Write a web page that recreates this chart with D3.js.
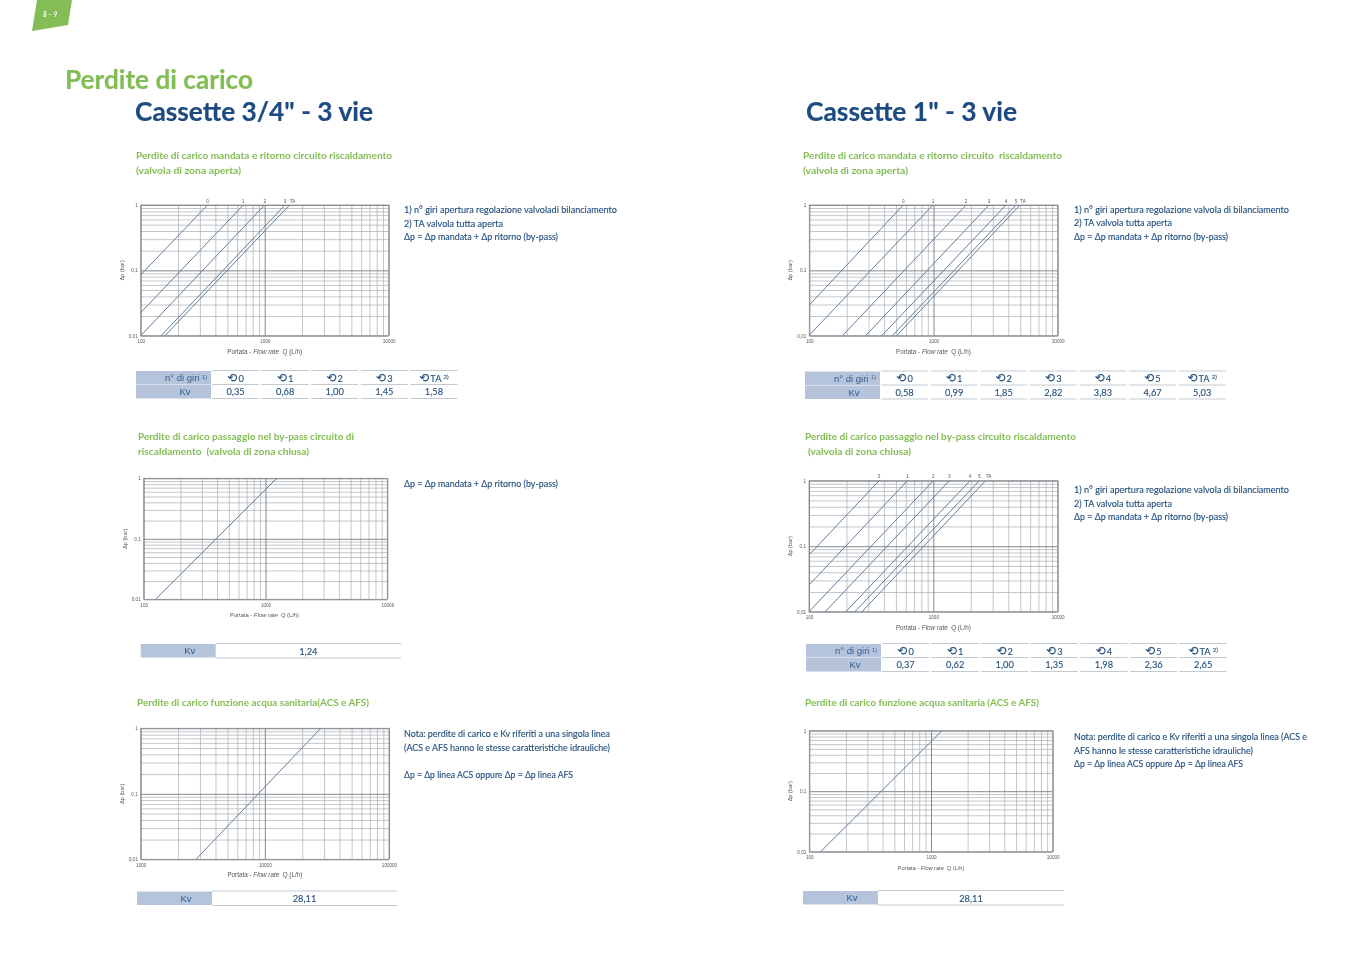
<!DOCTYPE html>
<html>
<head>
	<meta charset="utf-8">
	<title>Perdite di carico</title>
	<style>
		html, body { margin: 0; background: #fff; }
		svg { display: block; }
		.soft { filter: blur(0.4px); }
		.title { font: 700 27px Lato, sans-serif; stroke-width: 0.2; }
		.sub { font: 700 10px Lato, sans-serif; fill: #84bd55; }
		.note { font: 400 10px Lato, sans-serif; fill: #25507f; stroke: #25507f; stroke-width: 0.15; }
		.tick text, .small { font-family: "Liberation Sans", sans-serif; fill: #555; }
		.cell { font: 400 9.3px Lato, sans-serif; fill: #25507f; stroke: #25507f; stroke-width: 0.12; text-anchor: middle; }
		.head { font: 400 9.5px "Liberation Sans", sans-serif; fill: #2f5c8f; }
	</style>
</head>
<body>
<svg width="1356" height="959"></svg>
<script src="https://cdn.jsdelivr.net/npm/d3@7"></script>
<script>
	// tabelle Kv
	const turnsShort = ["0", "1", "2", "3", "TA"]
	const turnsLong = ["0", "1", "2", "3", "4", "5", "TA"]
	const kvHeat34 = ["0,35", "0,68", "1,00", "1,45", "1,58"]
	const kvHeat1 = ["0,58", "0,99", "1,85", "2,82", "3,83", "4,67", "5,03"]
	const kvBypass34 = ["1,24"]
	const kvBypass1 = ["0,37", "0,62", "1,00", "1,35", "1,98", "2,36", "2,65"]
	const kvAcs34 = ["28,11"]
	const kvAcs1 = ["28,11"]

	// curve: estremo basso [Q, dp] e Q dove arriva a dp = 1
	const lowHeat34 = [[100, 0.085], [100, 0.0225], [100, 0.01], [146, 0.01], [157, 0.01]]
	const topHeat34 = [346, 673, 1000, 1459, 1585]
	const lowHeat1 = [[100, 0.0295], [100, 0.0102], [185, 0.01], [284, 0.01], [383, 0.01], [466, 0.01], [505, 0.01]]
	const topHeat1 = [571, 990, 1830, 2800, 3837, 4620, 4977]
	const lowBypass34 = [[125, 0.01]]
	const topBypass34 = [1236]
	const lowBypass1 = [[100, 0.0733], [100, 0.0255], [100, 0.01], [135, 0.01], [198, 0.01], [234, 0.01], [267, 0.01]]
	const topBypass1 = [366, 618, 1000, 1345, 1972, 2344, 2630]
	const lowAcs34 = [[2790, 0.01]]
	const topAcs34 = [28200]
	const lowAcs1 = [[124, 0.01]]
	const topAcs1 = [1230]

	const yTicks = [0.01, 0.1, 1]
	const xTicksLow = [100, 1000, 10000]
	const xTicksHigh = [1000, 10000, 100000]

	const svg = d3.select("svg")
	const page = svg.append("g").attr("class", "soft")

	function minors(lo, hi) {
		let out = []
		for (let d = lo; d < hi; d *= 10)
			for (let m = 2; m < 10; m++) out.push(d * m)
		return out
	}

	function chart(box, xDomain, xTicks, low, top, labels) {
		let x = d3.scaleLog().domain(xDomain).range([box.l, box.r])
		let y = d3.scaleLog().domain([0.01, 1]).range([box.b, box.t])
		let h = box.b - box.t, w = box.r - box.l
		let g = page.append("g")

		// griglia minore
		g.append("g").attr("transform", `translate(0,${box.b})`)
			.call(d3.axisBottom(x).tickValues(minors(xDomain[0], xDomain[1])).tickSize(-h).tickFormat(""))
			.call(a => a.select(".domain").remove())
			.call(a => a.selectAll("line").attr("stroke", "#a9adb2").attr("stroke-width", 0.7))
		g.append("g").attr("transform", `translate(${box.l},0)`)
			.call(d3.axisLeft(y).tickValues(minors(0.01, 1)).tickSize(-w).tickFormat(""))
			.call(a => a.select(".domain").remove())
			.call(a => a.selectAll("line").attr("stroke", "#a9adb2").attr("stroke-width", 0.7))

		// decadi con etichette
		g.append("g").attr("transform", `translate(0,${box.b})`)
			.call(d3.axisBottom(x).tickValues(xTicks).tickSize(-h).tickPadding(4).tickFormat(d3.format("d")))
			.call(a => a.select(".domain").remove())
			.call(a => a.selectAll("line").attr("stroke", "#777b80").attr("stroke-width", 0.9))
			.call(a => a.selectAll("text").attr("font-size", 4.6))
		g.append("g").attr("transform", `translate(${box.l},0)`)
			.call(d3.axisLeft(y).tickValues(yTicks).tickSize(-w).tickPadding(3).tickFormat(d => String(d).replace(".", ",")))
			.call(a => a.select(".domain").remove())
			.call(a => a.selectAll("line").attr("stroke", "#777b80").attr("stroke-width", 0.9))
			.call(a => a.selectAll("text").attr("font-size", 4.6))
		g.append("rect").attr("x", box.l).attr("y", box.t).attr("width", w).attr("height", h)
			.attr("fill", "none").attr("stroke", "#8b8f94").attr("stroke-width", 0.8)

		// curve
		let line = d3.line().x(d => x(d[0])).y(d => y(d[1]))
		g.selectAll("path.curve").data(low).enter().append("path")
			.attr("class", "curve")
			.attr("fill", "none").attr("stroke", "#637e9d").attr("stroke-width", 1)
			.attr("d", (d, i) => line([d, [top[i], 1]]))
		if (labels) {
			g.selectAll("text.lab").data(labels).enter().append("text")
				.attr("class", "small lab")
				.attr("x", (d, i) => x(top[i]) + (d === "TA" ? 3 : 0)).attr("y", box.t - 2.5)
				.attr("font-size", 4.6).attr("text-anchor", "middle")
				.text(d => d)
		}

		// titoli assi
		g.append("text").attr("class", "small")
			.attr("transform", `translate(${box.l - 17},${(box.t + box.b) / 2}) rotate(-90)`)
			.attr("font-size", 5.6).attr("text-anchor", "middle").text("Δp (bar)")
		let xt = g.append("text").attr("class", "small")
			.attr("x", (box.l + box.r) / 2 + (box.dxTitle || 0)).attr("y", box.b + 18)
			.attr("font-size", box.fs || 6.3).attr("text-anchor", "middle").attr("xml:space", "preserve")
		xt.append("tspan").text("Portata - ")
		xt.append("tspan").attr("font-style", "italic").text("Flow rate")
		xt.append("tspan").text("  Q (L/h)")
	}

	function rule(g, x1, x2, y) {
		g.append("line").attr("x1", x1).attr("x2", x2).attr("y1", y).attr("y2", y)
			.attr("stroke", "#c3cad4").attr("stroke-width", 1)
	}

	// tabella a due righe: n° di giri + Kv
	function table(left, top, turns, kv) {
		let g = page.append("g")
		let rowH = 14, band = d3.scaleBand().domain(d3.range(turns.length))
			.range([left + 76, left + 76 + 49.6 * turns.length - 2.5]).paddingInner(0.05)
		g.append("rect").attr("x", left).attr("y", top).attr("width", 75).attr("height", rowH - 0.5).attr("fill", "#b5c4db")
		g.append("rect").attr("x", left).attr("y", top + rowH).attr("width", 75).attr("height", rowH - 0.5).attr("fill", "#b5c4db")
		let hd = g.append("text").attr("class", "head").attr("x", left + 71).attr("y", top + 10).attr("text-anchor", "end")
		hd.append("tspan").text("n° di giri ")
		hd.append("tspan").attr("font-size", 5.5).attr("dy", -2.5).text("1)")
		g.append("text").attr("class", "head").attr("x", left + 49).attr("y", top + rowH + 10).attr("text-anchor", "middle").text("Kv")
		turns.forEach((t, i) => {
			let x0 = band(i), x1 = x0 + band.bandwidth(), cx = (x0 + x1) / 2
			rule(g, x0, x1, top - 0.5)
			rule(g, x0, x1, top + rowH - 0.5)
			rule(g, x0, x1, top + 2 * rowH - 0.5)
			let c = g.append("text").attr("class", "cell").attr("x", cx).attr("y", top + 10.5)
			c.append("tspan").attr("font-family", "DejaVu Sans").attr("font-size", 12).text("⟲")
			c.append("tspan").attr("dx", 1).text(t === "TA" ? "TA " : t)
			if (t === "TA") c.append("tspan").attr("font-size", 6).attr("dy", -3).text("2)")
			g.append("text").attr("class", "cell").attr("x", cx).attr("y", top + rowH + 10).text(kv[i])
		})
	}

	// tabella a una riga, solo Kv
	function tableKv(left, top, right, kv) {
		let g = page.append("g")
		g.append("rect").attr("x", left).attr("y", top).attr("width", 75).attr("height", 13.5).attr("fill", "#b5c4db")
		g.append("text").attr("class", "head").attr("x", left + 49).attr("y", top + 10).attr("text-anchor", "middle").text("Kv")
		rule(g, left + 75, right, top - 0.5)
		rule(g, left + 75, right, top + 14)
		g.append("text").attr("class", "cell").attr("x", (left + 75 + right) / 2).attr("y", top + 10.5).text(kv[0])
	}

	// testo con larghezza misurata sul riferimento
	function txt(cls, s, x, y, x2, color) {
		let t = page.append("text").attr("class", cls).attr("x", x).attr("y", y)
			.attr("textLength", x2 - x).attr("lengthAdjust", "spacingAndGlyphs")
			.attr("xml:space", "preserve").text(s)
		if (color) t.attr("fill", color).attr("stroke", color)
	}

	// linguetta pagina
	page.append("polygon").attr("points", "37,0 72,0 68,25 32,31").attr("fill", "#84bd55")
	page.append("text").attr("x", 43).attr("y", 17).attr("fill", "#fff")
		.attr("font-family", "Lato").attr("font-weight", 700).attr("font-style", "italic").attr("font-size", 6.5)
		.text("8 – 9")

	txt("title", "Perdite di carico", 65, 89, 253, "#84bd55")
	txt("title", "Cassette 3/4\" - 3 vie", 135, 121, 373, "#1d4a80")
	txt("title", "Cassette 1\" - 3 vie", 806, 121, 1017, "#1d4a80")

	txt("sub", "Perdite di carico mandata e ritorno circuito riscaldamento", 136, 158.5, 392)
	txt("sub", "(valvola di zona aperta)", 136, 173.5, 241)
	txt("sub", "Perdite di carico mandata e ritorno circuito  riscaldamento", 803, 158.5, 1062)
	txt("sub", "(valvola di zona aperta)", 803, 173.5, 908)
	txt("sub", "Perdite di carico passaggio nel by-pass circuito di", 138, 439.5, 354)
	txt("sub", "riscaldamento  (valvola di zona chiusa)", 138, 454.5, 309)
	txt("sub", "Perdite di carico passaggio nel by-pass circuito riscaldamento", 805, 439.5, 1076)
	txt("sub", "(valvola di zona chiusa)", 808, 454.5, 911)
	txt("sub", "Perdite di carico funzione acqua sanitaria(ACS e AFS)", 137, 706, 369)
	txt("sub", "Perdite di carico funzione acqua sanitaria (ACS e AFS)", 805, 706, 1039)

	txt("note", "1) n° giri apertura regolazione valvoladi bilanciamento", 404, 213, 617)
	txt("note", "2) TA valvola tutta aperta", 404, 226.5, 503)
	txt("note", "Δp = Δp mandata + Δp ritorno (by-pass)", 404, 240, 558)
	txt("note", "1) n° giri apertura regolazione valvola di bilanciamento", 1074, 212.5, 1289)
	txt("note", "2) TA valvola tutta aperta", 1074, 226, 1172)
	txt("note", "Δp = Δp mandata + Δp ritorno (by-pass)", 1074, 240, 1228)
	txt("note", "Δp = Δp mandata + Δp ritorno (by-pass)", 404, 487, 558)
	txt("note", "1) n° giri apertura regolazione valvola di bilanciamento", 1074, 493, 1289)
	txt("note", "2) TA valvola tutta aperta", 1074, 506.5, 1172)
	txt("note", "Δp = Δp mandata + Δp ritorno (by-pass)", 1074, 520, 1228)
	txt("note", "Nota: perdite di carico e Kv riferiti a una singola linea", 404, 737, 610)
	txt("note", "(ACS e AFS hanno le stesse caratteristiche idrauliche)", 404, 751, 610)
	txt("note", "Δp = Δp linea ACS oppure Δp = Δp linea AFS", 404, 778, 573)
	txt("note", "Nota: perdite di carico e Kv riferiti a una singola linea (ACS e", 1074, 740, 1307)
	txt("note", "AFS hanno le stesse caratteristiche idrauliche)", 1074, 753.5, 1253)
	txt("note", "Δp = Δp linea ACS oppure Δp = Δp linea AFS", 1074, 767, 1243)

	chart({ l: 140.7, r: 388.7, t: 205, b: 335.7 }, [100, 10000], xTicksLow, lowHeat34, topHeat34, turnsShort)
	chart({ l: 809.3, r: 1057.7, t: 205, b: 335.7 }, [100, 10000], xTicksLow, lowHeat1, topHeat1, turnsLong)
	chart({ l: 143.7, r: 387.3, t: 478.3, b: 599.3, dxTitle: -1, fs: 5.8 }, [100, 10000], xTicksLow, lowBypass34, topBypass34)
	chart({ l: 809, r: 1057.7, t: 480.7, b: 611.7 }, [100, 10000], xTicksLow, lowBypass1, topBypass1, turnsLong)
	chart({ l: 140.7, r: 389, t: 728.3, b: 859.3 }, [1000, 100000], xTicksHigh, lowAcs34, topAcs34)
	chart({ l: 809.3, r: 1052.7, t: 730.7, b: 851.7, fs: 5.6 }, [100, 10000], xTicksLow, lowAcs1, topAcs1)

	table(136, 371, turnsShort, kvHeat34)
	table(805, 371.5, turnsLong, kvHeat1)
	table(806, 644, turnsLong, kvBypass1)
	tableKv(140.7, 644, 401, kvBypass34)
	tableKv(137, 891.5, 397, kvAcs34)
	tableKv(803, 891, 1064, kvAcs1)
</script>
</body>
</html>
